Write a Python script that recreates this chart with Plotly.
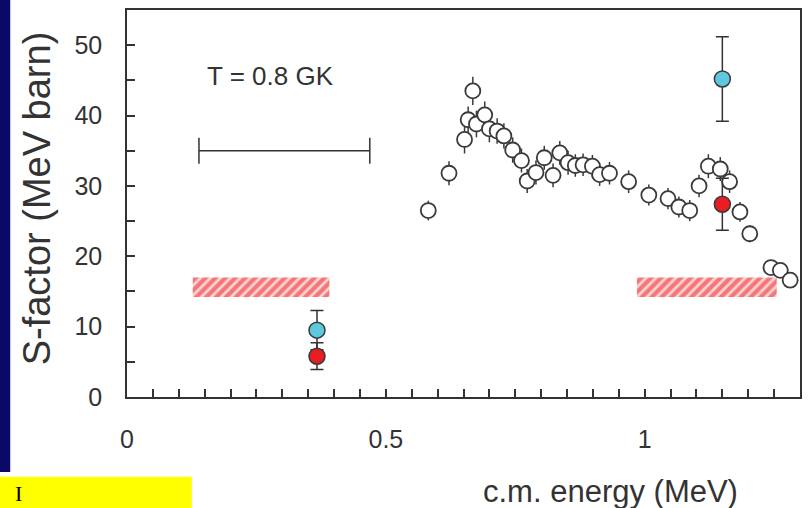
import plotly.graph_objects as go

# Measured S-factor (open circles)
energy = [0.582, 0.622, 0.652, 0.659, 0.668, 0.675, 0.691, 0.700, 0.715, 0.728,
          0.745, 0.762, 0.773, 0.790, 0.806, 0.823, 0.836, 0.852, 0.866, 0.881,
          0.899, 0.913, 0.932, 0.969, 1.008, 1.045, 1.066, 1.087, 1.105, 1.123,
          1.146, 1.164, 1.184, 1.203, 1.244, 1.262, 1.281]
sfactor = [26.5, 31.8, 36.6, 39.4, 43.5, 38.8, 40.1, 38.1, 37.8, 37.1,
           35.1, 33.6, 30.7, 31.9, 34.0, 31.5, 34.7, 33.3, 32.9, 33.0,
           32.8, 31.6, 31.8, 30.6, 28.7, 28.2, 27.0, 26.5, 30.0, 32.8,
           32.4, 30.6, 26.3, 23.2, 18.4, 18.0, 16.6]
sfactor_err = [1.4, 1.7, 2.0, 1.9, 2.0, 1.9, 1.9, 1.9, 1.8, 1.8,
               1.8, 1.7, 1.7, 1.7, 1.7, 1.7, 1.7, 1.7, 1.6, 1.6,
               1.6, 1.6, 1.6, 1.6, 1.5, 1.5, 1.5, 1.5, 1.6, 1.7,
               1.7, 1.6, 1.4, 1.2, 1.0, 1.0, 1.0]

# Cyan points
cyan_e = [0.367, 1.150]
cyan_s = [9.5, 45.2]
cyan_err = [2.8, 6.0]

# Red points
red_e = [0.367, 1.150]
red_s = [5.8, 27.4]
red_err = [1.9, 3.7]

# Hatched bands: start energy, end energy, lower S, upper S
band_start = [0.127, 0.985]
band_end = [0.391, 1.255]
band_low = 14.2
band_high = 17.0

# Gamow window at T = 0.8 GK
gamow_center = 0.304
gamow_halfwidth = 0.165
gamow_level = 35.0

# Tick labels
x_tickvals = [0, 0.5, 1]
x_ticktext = ["0", "0.5", "1"]
y_tickvals = [0, 10, 20, 30, 40, 50]
y_ticktext = ["0", "10", "20", "30", "40", "50"]

ink = "#333333"
font_family = "Liberation Sans, Arial, sans-serif"

fig = go.Figure()

band_mid = (band_low + band_high) / 2
fig.add_trace(go.Bar(
    orientation="h",
    y=[band_mid] * len(band_start),
    base=band_start,
    x=[e - s for s, e in zip(band_start, band_end)],
    width=[band_high - band_low] * len(band_start),
    marker=dict(
        color="white",
        line=dict(width=0),
        pattern=dict(shape="/", fgcolor="#EE1A20", bgcolor="#FBD3D3",
                     size=7, solidity=0.6, fillmode="overlay"),
    ),
    showlegend=False,
    hoverinfo="skip",
))

fig.add_trace(go.Scatter(
    x=[gamow_center], y=[gamow_level], mode="markers",
    marker=dict(size=1, color="rgba(0,0,0,0)"),
    error_x=dict(type="data", array=[gamow_halfwidth], width=13,
                 thickness=1.5, color=ink),
    showlegend=False, hoverinfo="skip",
))

fig.add_trace(go.Scatter(
    x=energy, y=sfactor, mode="markers",
    marker=dict(symbol="circle", size=15, color="white",
                line=dict(color="#3a3a3a", width=1.8)),
    error_y=dict(type="data", array=sfactor_err, width=0,
                 thickness=1.5, color="#3a3a3a"),
    showlegend=False,
))

fig.add_trace(go.Scatter(
    x=cyan_e, y=cyan_s, mode="markers",
    marker=dict(symbol="circle", size=16, color="#5EC8DC",
                line=dict(color="#3a3a3a", width=1.5)),
    error_y=dict(type="data", array=cyan_err, width=6.5,
                 thickness=1.5, color=ink),
    showlegend=False,
))

fig.add_trace(go.Scatter(
    x=red_e, y=red_s, mode="markers",
    marker=dict(symbol="circle", size=16, color="#E81E22",
                line=dict(color="#3a3a3a", width=1.5)),
    error_y=dict(type="data", array=red_err, width=6.5,
                 thickness=1.5, color=ink),
    showlegend=False,
))

axis_common = dict(
    showline=True, mirror=True, linecolor=ink, linewidth=1.5,
    ticks="inside", ticklen=8, tickwidth=1.5, tickcolor=ink,
    showgrid=False, zeroline=False, tickmode="array",
    tickfont=dict(family=font_family, size=25, color=ink),
)

fig.update_xaxes(
    range=[0, 1.3], tickvals=x_tickvals, ticktext=x_ticktext,
    ticklabelstandoff=19,
    minor=dict(dtick=0.05, tick0=0, ticks="inside", ticklen=8,
               tickwidth=1.5, tickcolor=ink, showgrid=False),
    **axis_common,
)
fig.update_yaxes(
    range=[0, 55], tickvals=y_tickvals, ticktext=y_ticktext,
    ticklabelstandoff=18,
    minor=dict(dtick=5, tick0=0, ticks="inside", ticklen=8,
               tickwidth=1.5, tickcolor=ink, showgrid=False),
    **axis_common,
)

fig.add_annotation(
    x=0.2766, y=45.6, xref="x", yref="y", text="T = 0.8 GK",
    showarrow=False, font=dict(family=font_family, size=26, color=ink),
)

# Axis titles
fig.add_annotation(
    x=-0.1324, y=0.513, xref="paper", yref="paper",
    text="S-factor (MeV barn)", textangle=-90, showarrow=False,
    xanchor="center", yanchor="middle",
    font=dict(family=font_family, size=38, color=ink),
)
fig.add_annotation(
    x=0.718, y=-0.245, xref="paper", yref="paper",
    text="c.m. energy (MeV)", showarrow=False,
    xanchor="center", yanchor="middle",
    font=dict(family=font_family, size=31, color=ink),
)

# Slide decoration: navy edge stripe and yellow caption box
fig.add_shape(type="rect", xref="paper", yref="paper",
              x0=-0.20, x1=-0.1735, y0=-0.1935, y1=1.05,
              fillcolor="#0A0A66", line=dict(width=0), layer="above")
fig.add_shape(type="rect", xref="paper", yref="paper",
              x0=-0.20, x1=0.0963, y0=-0.35, y1=-0.2063,
              fillcolor="#FFFF00", line=dict(width=0), layer="above")
fig.add_annotation(
    x=-0.161, y=-0.212, xref="paper", yref="paper", text="I",
    showarrow=False, xanchor="center", yanchor="top",
    font=dict(family="Liberation Serif, Times New Roman, serif", size=22, color="black"),
)

fig.update_layout(
    width=810, height=508,
    margin=dict(l=127, r=10, t=8, b=111, pad=0),
    paper_bgcolor="white", plot_bgcolor="white",
    showlegend=False,
)

fig.write_html("out.html")
